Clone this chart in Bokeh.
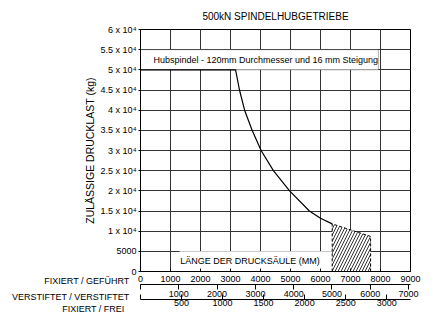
from bokeh.plotting import figure
from bokeh.models import Range1d, LinearAxis, FixedTicker, Label, BoxAnnotation, Title
from bokeh.embed import file_html
from bokeh.resources import INLINE

# ---------------- data ----------------
title_text = "500kN SPINDELHUBGETRIEBE"
y_axis_label = "ZULÄSSIGE DRUCKLAST (kg)"
y_ticks = [0, 5000, 10000, 15000, 20000, 25000, 30000, 35000, 40000, 45000, 50000, 55000, 60000]
y_tick_labels = ["0", "5000", "1 x 10\u2074", "1.5 x 10\u2074", "2 x 10\u2074", "2.5 x 10\u2074",
                 "3 x 10\u2074", "3.5 x 10\u2074", "4 x 10\u2074", "4.5 x 10\u2074", "5 x 10\u2074",
                 "5.5 x 10\u2074", "6 x 10\u2074"]

x1_ticks = [0, 1000, 2000, 3000, 4000, 5000, 6000, 7000, 8000, 9000]
x2_ticks = [0, 1000, 2000, 3000, 4000, 5000, 6000, 7000]
x3_ticks = [0, 500, 1000, 1500, 2000, 2500, 3000]
row_labels = ["FIXIERT / GEFÜHRT", "VERSTIFTET / VERSTIFTET", "FIXIERT / FREI"]

curve_len = [0, 3170, 3300, 3470, 3720, 4020, 4430, 4970, 5630, 6000, 6390]
curve_load = [50000, 50000, 45000, 40000, 35000, 30000, 25000, 20000, 15000, 13200, 11800]

hatch_len = [6390, 6390, 7670, 7670]
hatch_load = [0, 11800, 8700, 0]

note_top = "Hubspindel - 120mm Durchmesser und 16 mm Steigung"
note_bottom = "LÄNGE DER DRUCKSÄULE (MM)"

FONT = "Liberation Sans"

# ---------------- figure ----------------
p = figure(width=433, height=314, x_range=Range1d(0, 9000), y_range=Range1d(0, 60000),
           output_backend="svg", toolbar_location=None, title=title_text,
           min_border_left=140, min_border_right=23, min_border_top=29, min_border_bottom=43)
p.background_fill_color = "white"
p.border_fill_color = "white"
p.outline_line_color = "black"
p.outline_line_width = 1
p.outline_line_alpha = 1

p.title.align = "center"
p.title.vertical_align = "middle"
p.title.text_font = FONT
p.title.text_font_size = "10px"
p.title.text_font_style = "normal"
p.title.text_color = "black"
p.title.standoff = 14

# grids
p.xgrid.ticker = FixedTicker(ticks=x1_ticks)
p.ygrid.ticker = FixedTicker(ticks=y_ticks)
for g in (p.xgrid, p.ygrid):
    g.grid_line_color = "#333333"
    g.grid_line_alpha = 1
    g.grid_line_width = 1

# y axis
ya = p.yaxis[0]
ya.ticker = FixedTicker(ticks=y_ticks)
ya.major_label_overrides = dict(zip(y_ticks, y_tick_labels))
ya.axis_label = y_axis_label
ya.axis_label_text_font = FONT
ya.axis_label_text_font_size = "10.5px"
ya.axis_label_text_font_style = "normal"
ya.axis_label_text_color = "black"
ya.axis_label_standoff = 2
ya.major_label_text_font = FONT
ya.major_label_text_font_size = "9px"
ya.major_label_text_color = "black"
ya.major_tick_out = 2
ya.major_tick_in = 0
ya.minor_tick_line_color = None
ya.axis_line_color = "black"
ya.major_label_standoff = 2


def style_x(ax, tick_in, tick_out, standoff):
    ax.major_label_text_font = FONT
    ax.major_label_text_font_size = "9px"
    ax.major_label_text_color = "black"
    ax.major_tick_in = tick_in
    ax.major_tick_out = tick_out
    ax.minor_tick_line_color = None
    ax.minor_tick_out = 0
    ax.minor_tick_in = 0
    ax.axis_line_color = "black"
    ax.major_tick_line_color = "black"
    ax.major_label_standoff = standoff


xa = p.xaxis[0]
xa.ticker = FixedTicker(ticks=x1_ticks)
style_x(xa, 3, 0, 4)

p.extra_x_ranges = {"pp": Range1d(0, 7050), "ff": Range1d(0, 3290)}
ax2 = LinearAxis(x_range_name="pp", ticker=FixedTicker(ticks=x2_ticks),
                 major_label_overrides={0: ""})
style_x(ax2, 0, 5, 1)
ax3 = LinearAxis(x_range_name="ff", ticker=FixedTicker(ticks=x3_ticks),
                 major_label_overrides={0: ""})
style_x(ax3, 5, 0, 0)

# row labels of the three length scales: zero-height titles placed between the axes
row_offsets = [281, 281, 286]
row_standoffs = [-18, -16, -17]
row_valign = ["top", "top", "middle"]
row_titles = []
for lbl, off, st, va in zip(row_labels, row_offsets, row_standoffs, row_valign):
    row_titles.append(Title(text=lbl, align="right", offset=off, standoff=st,
                            vertical_align=va, text_font=FONT, text_font_size="9px",
                            text_font_style="normal", text_color="black"))

p.add_layout(ax2, "below")
p.add_layout(ax3, "below")
p.below = [xa, row_titles[0], ax2, row_titles[1], ax3, row_titles[2]]

# white boxes behind the notes
p.add_layout(BoxAnnotation(left=0, right=7930, bottom=50000, top=55000,
                           fill_color="white", fill_alpha=1, line_color="black",
                           line_width=1, level="underlay"))
p.add_layout(BoxAnnotation(left=1300, right=6390, bottom=0, top=5000,
                           fill_color="white", fill_alpha=1, line_color=None,
                           level="underlay"))

# curve
p.line(curve_len, curve_load, line_color="black", line_width=1.2)

# hatched region
p.patch(hatch_len, hatch_load, fill_color="white", line_color=None,
        hatch_pattern="/", hatch_color="black", hatch_scale=6, hatch_weight=0.8)
p.line(hatch_len, hatch_load, line_color="black", line_width=1, line_dash="3 2")

# notes
p.add_layout(Label(x=430, y=52500, text=note_top, text_baseline="middle",
                   text_font=FONT, text_font_size="9px", text_color="black"))
p.add_layout(Label(x=3650, y=2500, text=note_bottom, text_baseline="middle",
                   text_align="center", text_font=FONT, text_font_size="9px",
                   text_color="black"))

open("out.html", "w").write(file_html(p, INLINE))
